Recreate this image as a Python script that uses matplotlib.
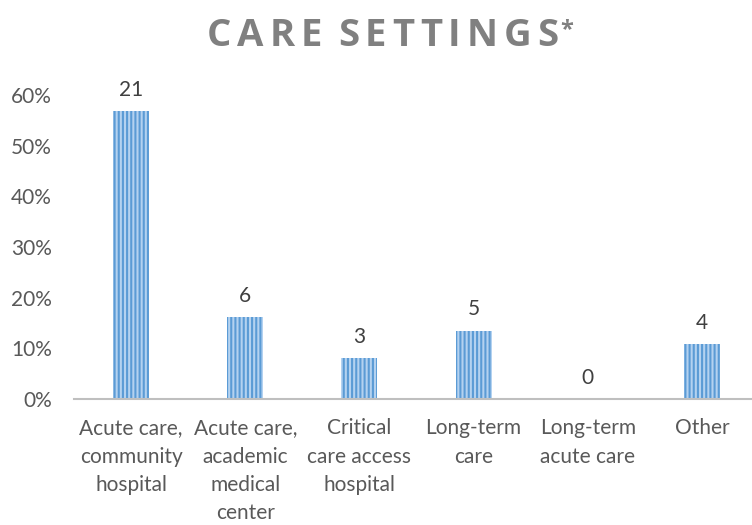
import numpy as np
import matplotlib.pyplot as plt
from matplotlib.ticker import PercentFormatter

# data
categories = ['Acute care,\ncommunity\nhospital', 'Acute care,\nacademic\nmedical\ncenter',
              'Critical\ncare access\nhospital', 'Long-term\ncare', 'Long-term\nacute care', 'Other']
counts = [21, 6, 3, 5, 0, 4]
shares = [0.568, 0.162, 0.081, 0.135, 0.0, 0.108]
yticks = [0, 0.1, 0.2, 0.3, 0.4, 0.5, 0.6]
title = 'CARE SETTINGS'

plt.rcParams['font.family'] = ['Lato', 'DejaVu Sans']
plt.rcParams['hatch.linewidth'] = 1.5

fig = plt.figure(figsize=(7.52, 5.25), dpi=100)
ax = fig.add_axes([74/752, 1-399/525, 685/752, 304/525])

x = np.arange(len(categories))
ax.bar(x, shares, width=0.315, color='#b4d2f0', edgecolor='#5b9bd5',
       hatch='||||', linewidth=0)

for xi, s, c in zip(x, shares, counts):
    ax.text(xi, s + 0.022, str(c), ha='center', va='bottom', fontsize=15, color='#404040')

ax.set_xlim(-0.5, len(categories) - 0.5)
ax.set_ylim(0, 0.6)
ax.set_yticks(yticks)
ax.yaxis.set_major_formatter(PercentFormatter(1.0, decimals=0))
ax.set_xticks(x)
ax.set_xticklabels(categories, linespacing=1.52)
ax.tick_params(axis='both', length=0, labelsize=15, colors='#595959')
ax.tick_params(axis='x', pad=14)
ax.tick_params(axis='y', pad=16)

for side in ['top', 'right', 'left']:
    ax.spines[side].set_visible(False)
ax.spines['bottom'].set_color('#bfbfbf')
ax.spines['bottom'].set_linewidth(1.5)

# letter-spaced title, placed one character at a time
renderer = fig.canvas.get_renderer()
tstyle = dict(fontsize=27.5, fontweight='bold', color='#808080', family='Open Sans')
left, right = 207, 558
widths = []
for ch in title:
    if ch == ' ':
        widths.append(5.0)
        continue
    t = fig.text(0, 0, ch, **tstyle)
    widths.append(t.get_window_extent(renderer).width)
    t.remove()
gap = (right - left - sum(widths)) / (len(title) - 1)
xpos = left
for ch, w in zip(title, widths):
    if ch != ' ':
        fig.text(xpos / 752, 1 - 46 / 525, ch, ha='left', va='baseline', **tstyle)
    xpos += w + gap
fig.text(567 / 752, 1 - 36 / 525, '*', ha='center', va='baseline',
         fontsize=17, fontweight='bold', color='#808080', family='Open Sans')

fig.savefig('out.png', dpi=100)
